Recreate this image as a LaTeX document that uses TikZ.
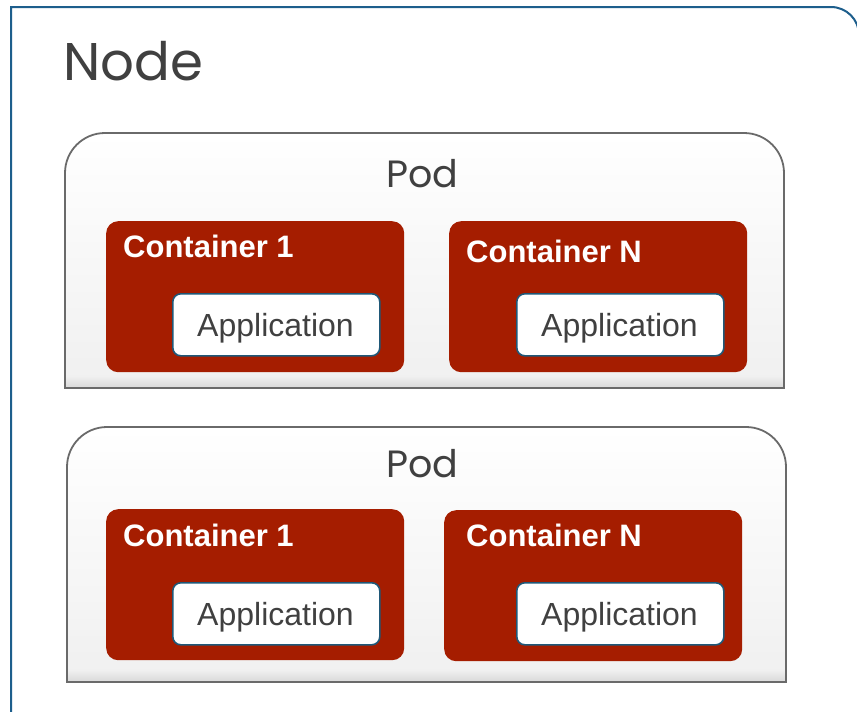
\documentclass[tikz,border=0pt]{standalone}
\usepackage{fontspec}
\setmainfont{Liberation Sans}
\newfontfamily\geofont{Poppins}
\definecolor{framecol}{HTML}{1D5E8C}
\definecolor{podline}{HTML}{6A6A6A}
\definecolor{contred}{HTML}{A51D00}
\definecolor{appline}{HTML}{1F5878}
\definecolor{txtgrey}{HTML}{404040}
\tikzset{
  container/.style={fill=contred, draw=none, rounded corners=12pt, anchor=north west, inner sep=0pt},
  appbox/.style={fill=white, draw=appline, line width=1.6pt, rounded corners=8pt, anchor=north west, inner sep=0pt},
  apptext/.style={text=txtgrey, font=\fontsize{32}{38}\selectfont, anchor=base, inner sep=0pt},
  conttext/.style={text=white, font=\fontsize{31}{36}\selectfont\bfseries, anchor=base west, inner sep=0pt},
  podtext/.style={text=txtgrey, font=\geofont\fontsize{38}{44}\selectfont, anchor=base west, inner sep=0pt},
  podline/.style={draw=podline, line width=1.8pt},
}
\begin{document}
\begin{tikzpicture}[x=1pt,y=-1pt]
\useasboundingbox (0,0) rectangle (857,712);
\clip (0,0) rectangle (857,712);
\fill[white] (0,0) rectangle (857,712);
% Node frame
\draw[framecol, line width=2pt] (11,730) -- (11,7) -- (831,7) arc[start angle=270, end angle=360, radius=28] -- (859,730);
\node[podtext, font=\geofont\fontsize{53}{60}\selectfont] (nodetitle) at (63,80) {Node};
% Pods
\foreach \t/\b/\l/\r/\nm in {133/388/65/784/podA, 427/682/67/786/podB}{
  \shade[top color=white, bottom color=black!6] (\l,\b) -- (\l,\t+40) arc[start angle=180, end angle=270, radius=40] -- (\r-40,\t) arc[start angle=270, end angle=360, radius=40] -- (\r,\b) -- cycle;
  \shade[top color=black!6, bottom color=black!15] (\l,\b-12) rectangle (\r,\b);
  \draw[podline] (\l,\b) -- (\l,\t+40) arc[start angle=180, end angle=270, radius=40] -- (\r-40,\t) arc[start angle=270, end angle=360, radius=40] -- (\r,\b) -- cycle;
}
\node[podtext] (podAtxt) at (386,187) {Pod};
\node[podtext] (podBtxt) at (386,477) {Pod};
% Pod A containers
\node[container, minimum width=298pt, minimum height=151pt] (cA1) at (106,221) {};
\node[container, minimum width=298pt, minimum height=151pt] (cAN) at (449,221) {};
\node[conttext] (cA1t) at (123,257) {Container 1};
\node[conttext] (cANt) at (466,262) {Container N};
\node[appbox, minimum width=207pt, minimum height=62pt] (aA1) at (172,293) {};
\node[appbox, minimum width=207pt, minimum height=62pt] (aAN) at (516,293) {};
\node[apptext] (aA1t) at (275.5,336) {Application};
\node[apptext] (aANt) at (619.5,336) {Application};
% Pod B containers
\node[container, minimum width=298pt, minimum height=151pt] (cB1) at (106,509) {};
\node[container, minimum width=298pt, minimum height=151pt] (cBN) at (444,510) {};
\node[conttext] (cB1t) at (123,546) {Container 1};
\node[conttext] (cBNt) at (466,546) {Container N};
\node[appbox, minimum width=207pt, minimum height=62pt] (aB1) at (172,582) {};
\node[appbox, minimum width=207pt, minimum height=62pt] (aBN) at (516,582) {};
\node[apptext] (aB1t) at (275.5,625) {Application};
\node[apptext] (aBNt) at (619.5,625) {Application};
\end{tikzpicture}
\end{document}
